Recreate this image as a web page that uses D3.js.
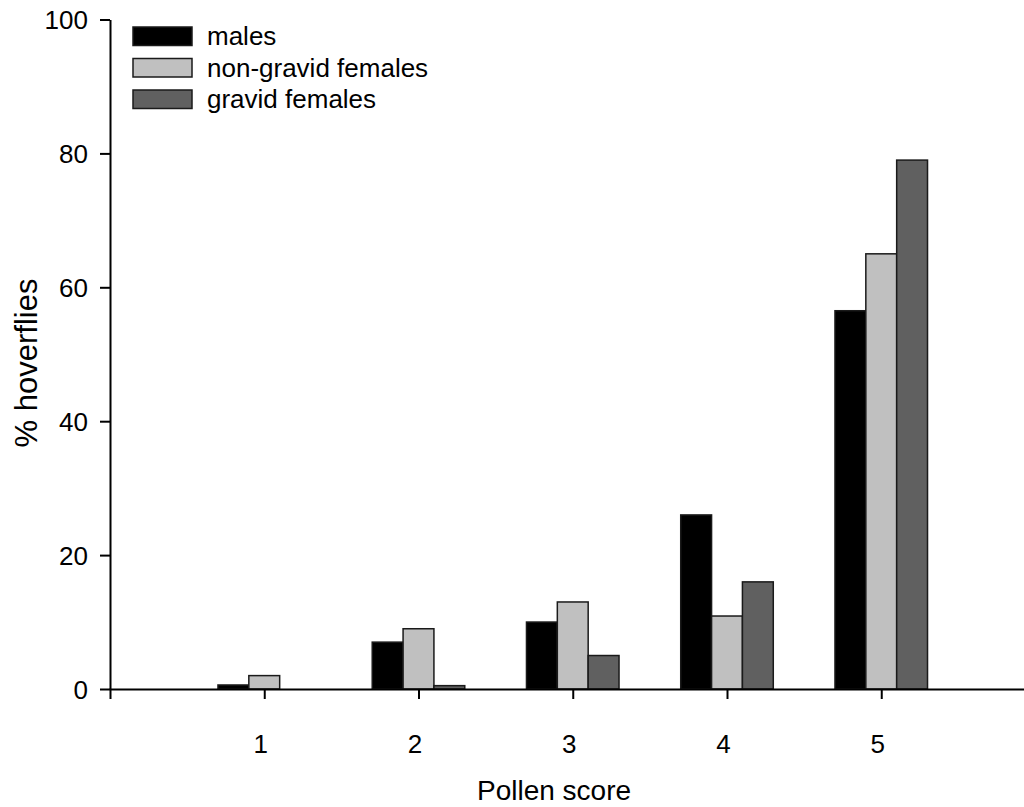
<!DOCTYPE html>
<html>
<head>
<meta charset="utf-8">
<script src="https://cdn.jsdelivr.net/npm/d3@7"></script>
<style>
	body { margin: 0; background: #fff; }
	svg text { font-family: "Liberation Sans", Arial, Helvetica, sans-serif; fill: #000; }
</style>
</head>
<body>
<div id="chart"></div>
<script>
// values
var scores = [1, 2, 3, 4, 5];
var seriesNames = ["males", "non-gravid females", "gravid females"];
var males = [0.6, 7, 10, 26, 56.5];
var nonGravid = [2, 9, 13, 10.9, 65];
var gravid = [0, 0.5, 5, 16, 79];
var yTicks = [0, 20, 40, 60, 80, 100];
var colours = ["#000000", "#c0c0c0", "#606060"];

var W = 1024, H = 807;
var svg = d3.select("#chart").append("svg")
	.attr("width", W)
	.attr("height", H);

var x = d3.scaleLinear().domain([0, 6]).range([110, 110 + 6 * 154.25]);
var y = d3.scaleLinear().domain([0, 100]).range([689, 19.5]);
var barW = x(0.2) - x(0);

var series = [males, nonGravid, gravid];

// bars
series.forEach(function(vals, s){
	svg.append("g").selectAll("rect")
		.data(scores.map(function(sc, i){ return {score: sc, v: vals[i]}; }).filter(function(d){ return d.v > 0; }))
		.enter().append("rect")
		.attr("x", function(d){ return x(d.score) + (s - 1.5) * barW; })
		.attr("y", function(d){ return y(d.v); })
		.attr("width", barW)
		.attr("height", function(d){ return y(0) - y(d.v); })
		.attr("fill", colours[s])
		.attr("stroke", "#1a1a1a")
		.attr("stroke-width", 1.5);
});

// axes
var xAxis = svg.append("g")
	.attr("transform", "translate(0," + y(0) + ")")
	.call(d3.axisBottom(x).tickValues(scores).tickFormat(d3.format("d"))
		.tickSize(10).tickSizeOuter(10).tickPadding(36));
var yAxis = svg.append("g")
	.attr("transform", "translate(" + x(0) + ",0)")
	.call(d3.axisLeft(y).tickValues(yTicks).tickFormat(d3.format("d"))
		.tickSize(10).tickSizeOuter(0).tickPadding(12));

[xAxis, yAxis].forEach(function(ax){
	ax.attr("font-family", null).attr("font-size", null);
	ax.select(".domain").attr("stroke", "#000").attr("stroke-width", 2);
	ax.selectAll(".tick line").attr("stroke", "#000").attr("stroke-width", 2);
	ax.selectAll(".tick text").attr("font-size", 26);
});
xAxis.selectAll(".tick text").attr("dx", -4);
yAxis.selectAll(".tick text").attr("dy", "0.36em");

// axis titles
svg.append("text")
	.attr("x", 554)
	.attr("y", 800)
	.attr("text-anchor", "middle")
	.attr("font-size", 28)
	.text("Pollen score");
svg.append("text")
	.attr("transform", "translate(37,363) rotate(-90)")
	.attr("text-anchor", "middle")
	.attr("font-size", 31)
	.text("% hoverflies");

// legend
var legend = svg.append("g").attr("transform", "translate(133,27)");
var row = legend.selectAll("g").data(seriesNames).enter().append("g")
	.attr("transform", function(d, i){ return "translate(0," + (i * 31.5) + ")"; });
row.append("rect")
	.attr("width", 59)
	.attr("height", 18.5)
	.attr("fill", function(d, i){ return colours[i]; })
	.attr("stroke", "#1a1a1a")
	.attr("stroke-width", 1.5);
row.append("text")
	.attr("x", 74)
	.attr("y", 18)
	.attr("font-size", 26)
	.text(function(d){ return d; });
</script>
</body>
</html>
